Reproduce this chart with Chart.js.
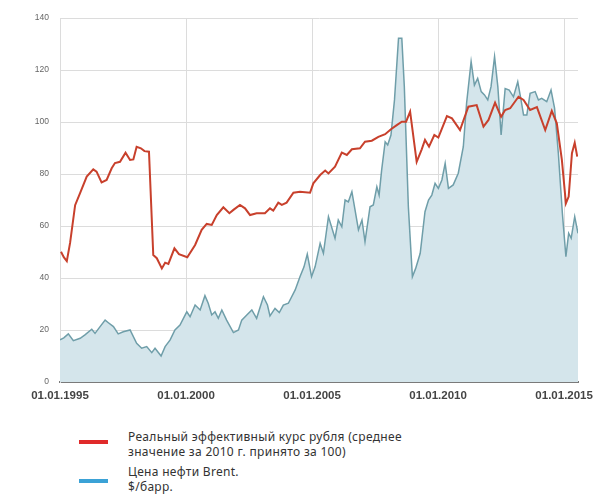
<!DOCTYPE html>
<html>
<head>
<meta charset="utf-8">
<script src="https://cdn.jsdelivr.net/npm/chart.js@4.4.1/dist/chart.umd.min.js"></script>
<style>
    body { margin: 0; background: #fff; font-family: "Noto Sans", sans-serif; }
    .wrap { position: relative; width: 596px; height: 499px; }
    .chartBox { position: absolute; left: 0; top: 0; width: 596px; height: 410px; }
    .swatch { position: absolute; left: 79px; width: 29px; height: 4px; }
    .txt { position: absolute; left: 128px; font-size: 12px; letter-spacing: 0.3px; line-height: 15px; color: #333; white-space: nowrap; }
</style>
</head>
<body>
<div class="wrap">
    <div class="chartBox"><canvas id="myChart"></canvas></div>
    <div class="swatch" style="top:440px; background:#e02a2a;"></div>
    <div class="txt" style="top:429px;">Реальный эффективный курс рубля (среднее<br>значение за 2010 г. принято за 100)</div>
    <div class="swatch" style="top:479px; background:#3ba2d6;"></div>
    <div class="txt" style="top:464px;">Цена нефти Brent.<br>$/барр.</div>
</div>
<script>
// real effective ruble exchange rate (2010 = 100)
let reerDates = [1995.04, 1995.15, 1995.27, 1995.4, 1995.6, 1995.8, 1996.06, 1996.32, 1996.45, 1996.65, 1996.85,
    1997.05, 1997.18, 1997.38, 1997.6, 1997.78, 1997.91, 1998.04, 1998.21, 1998.35, 1998.53, 1998.7, 1998.84,
    1999.04, 1999.17, 1999.3, 1999.54, 1999.72, 2000.05, 2000.36, 2000.62, 2000.82, 2001.02, 2001.22, 2001.48,
    2001.72, 2001.88, 2002.14, 2002.34, 2002.54, 2002.8, 2003.13, 2003.33, 2003.46, 2003.66, 2003.8, 2003.99,
    2004.26, 2004.52, 2004.92, 2005.05, 2005.32, 2005.52, 2005.65, 2005.91, 2006.18, 2006.38, 2006.58, 2006.9,
    2007.1, 2007.37, 2007.63, 2007.9, 2008.13, 2008.36, 2008.56, 2008.73, 2008.89, 2009.15, 2009.35, 2009.48,
    2009.64, 2009.85, 2010.01, 2010.35, 2010.55, 2010.87, 2011.2, 2011.53, 2011.8, 2012.0, 2012.26, 2012.5,
    2012.66, 2012.86, 2013.19, 2013.39, 2013.65, 2013.92, 2014.25, 2014.51, 2014.71, 2014.91, 2015.07, 2015.18,
    2015.31, 2015.42, 2015.52];
let reerValues = [50.1, 48, 46.5, 53.5, 68, 72.7, 79, 81.8, 80.9, 76.8, 77.7,
    82.2, 84.2, 84.7, 88.2, 85.4, 85.6, 90.5, 89.9, 88.8, 88.6, 48.8, 47.6,
    43.7, 45.9, 45.4, 51.4, 49.2, 48, 52.7, 58.5, 60.8, 60.4, 64.2, 67.2,
    64.9, 66.2, 68.1, 66.8, 64.2, 64.9, 64.9, 66.8, 65.9, 69, 68.1, 69,
    72.8, 73.2, 72.8, 76.4, 79.6, 81.3, 80.2, 82.8, 88.2, 87.3, 89.5, 89.9,
    92.4, 92.8, 94.3, 95.3, 97.2, 98.8, 100.1, 100.1, 104, 84.7, 89.5, 93.1,
    90.5, 95, 94, 102.3, 101.4, 96.9, 105.9, 106.5, 98.2, 100.8, 107.4, 102,
    104.6, 105.3, 109.7, 108.5, 104.6, 105.7, 96.9, 104.3, 99.5, 85.4, 68.7, 71.3,
    88, 92, 86.7];

// Brent oil price, $/bbl
let brentDates = [1995.0, 1995.15, 1995.33, 1995.53, 1995.8, 1995.99, 1996.26, 1996.39, 1996.59, 1996.79, 1996.92,
    1997.12, 1997.31, 1997.51, 1997.78, 1998.04, 1998.24, 1998.44, 1998.64, 1998.77, 1999.01, 1999.17, 1999.37,
    1999.56, 1999.76, 2000.03, 2000.16, 2000.36, 2000.56, 2000.75, 2000.88, 2001.02, 2001.15, 2001.28, 2001.42,
    2001.61, 2001.88, 2002.08, 2002.21, 2002.41, 2002.61, 2002.8, 2003.07, 2003.23, 2003.33, 2003.53, 2003.7,
    2003.86, 2004.06, 2004.33, 2004.52, 2004.68, 2004.81, 2004.98, 2005.12, 2005.32, 2005.45, 2005.65, 2005.91,
    2006.04, 2006.18, 2006.31, 2006.44, 2006.58, 2006.84, 2006.98, 2007.1, 2007.3, 2007.43, 2007.57, 2007.66,
    2007.76, 2007.9, 2008.0, 2008.13, 2008.27, 2008.43, 2008.56, 2008.66, 2008.82, 2008.98, 2009.11, 2009.29,
    2009.48, 2009.62, 2009.75, 2009.88, 2010.01, 2010.15, 2010.28, 2010.41, 2010.6, 2010.8, 2011.0, 2011.13,
    2011.31, 2011.44, 2011.57, 2011.71, 2011.84, 2011.97, 2012.1, 2012.24, 2012.37, 2012.5, 2012.66, 2012.82,
    2012.99, 2013.16, 2013.29, 2013.39, 2013.52, 2013.65, 2013.85, 2013.98, 2014.11, 2014.31, 2014.48, 2014.62,
    2014.77, 2014.93, 2015.07, 2015.18, 2015.28, 2015.42, 2015.55];
let brentValues = [16.2, 17, 18.5, 15.9, 16.8, 18.1, 20.3, 18.7, 21.3, 23.8, 22.8,
    21.3, 18.5, 19.3, 20, 14.9, 13, 13.6, 11.3, 13, 10, 13.6, 16.2,
    20, 21.9, 27, 25.1, 29.6, 27.7, 33.2, 30.3, 25.8, 27, 24.5, 27.7,
    23.8, 19, 20, 23.8, 25.8, 27.7, 24.5, 32.8, 29.6, 25.4, 28.3, 26.7,
    29.6, 30.3, 35.4, 40.5, 44.3, 49.2, 40.5, 44.3, 53.3, 49.5, 63.6, 55.3,
    62.3, 59.7, 70, 69.3, 73.2, 58.5, 62.3, 54, 67.4, 68.1, 75.1, 71.9,
    81.5, 92.4, 91.2, 95, 108.5, 132.2, 132.2, 113.6, 67.4, 40.5, 43.7, 49.5,
    65.5, 70, 71.9, 76.4, 74.5, 77.7, 84.1, 74.5, 75.8, 80.3, 90.5, 107.2,
    123.2, 114.2, 116.8, 111.7, 110.4, 108.5, 113.6, 125.1, 113.6, 95, 112.9, 112.3,
    109.7, 115.5, 108.5, 102.7, 102.7, 111, 111.7, 108.5, 109.1, 107.8, 112.3, 105.3,
    88, 64.9, 48.2, 57.2, 55.3, 63.6, 57.2];

let xTicks = [1995, 2000, 2005, 2010, 2015];

function toPoints(xs, ys) {
    return xs.map((x, i) => ({ x: x, y: ys[i] }));
}

let ctx = document.getElementById("myChart");

new Chart(ctx, {
    type: 'line',
    data: {
        datasets: [{
            label: 'Реальный эффективный курс рубля',
            data: toPoints(reerDates, reerValues),
            borderColor: '#c8402c',
            borderWidth: 2,
            pointRadius: 0,
            fill: false,
        }, {
            label: 'Цена нефти Brent',
            data: toPoints(brentDates, brentValues),
            borderColor: '#6f9ea9',
            backgroundColor: '#d4e5eb',
            borderWidth: 1.5,
            pointRadius: 0,
            fill: 'origin',
        }],
    },
    options: {
        responsive: true,
        maintainAspectRatio: false,
        animation: false,
        layout: { padding: { top: 18, right: 18, left: 0, bottom: 0 } },
        plugins: {
            legend: { display: false },
            tooltip: { enabled: false },
        },
        scales: {
            x: {
                type: 'linear',
                min: 1995,
                max: 2015.55,
                afterFit: (s) => { s.height = 28; s.paddingLeft = 0; s.paddingRight = 0; },
                afterBuildTicks: (s) => { s.ticks = xTicks.map(v => ({ value: v })); },
                grid: { color: '#dcdcdc', drawTicks: false },
                border: { color: '#7a7a7a', width: 2 },
                ticks: {
                    padding: 7,
                    autoSkip: false,
                    maxRotation: 0,
                    color: '#444',
                    font: { family: 'Liberation Sans', size: 11.5, weight: 'bold' },
                    callback: (v) => '01.01.' + v,
                },
            },
            y: {
                min: 0,
                max: 140,
                afterFit: (s) => { s.width = 60; },
                grid: { color: '#dcdcdc', drawTicks: false },
                border: { color: '#dcdcdc' },
                ticks: {
                    stepSize: 20,
                    padding: 11,
                    color: '#666',
                    font: { family: 'Liberation Sans', size: 8.5 },
                },
            },
        },
    },
});
</script>
</body>
</html>
